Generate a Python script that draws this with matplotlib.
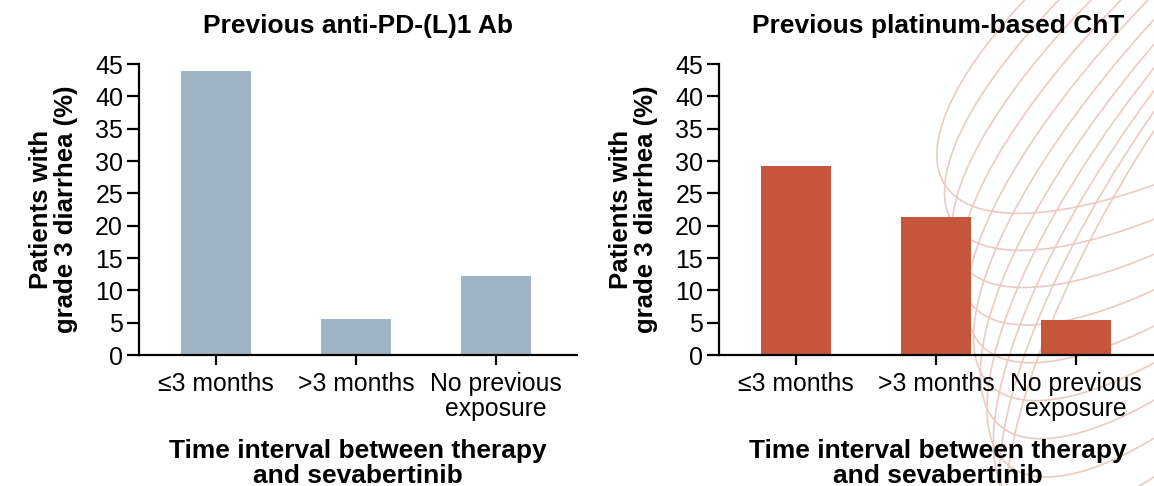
import numpy as np
import matplotlib.pyplot as plt
from matplotlib.patches import Ellipse

plt.rcParams['font.family'] = ['Liberation Sans', 'DejaVu Sans']

categories = ['≤3 months', '>3 months', 'No previous\nexposure']
pd1_values = [43.9, 5.6, 12.2]
platinum_values = [29.3, 21.4, 5.4]
panel_titles = ['Previous anti-PD-(L)1 Ab', 'Previous platinum-based ChT']
yticks = [0, 5, 10, 15, 20, 25, 30, 35, 40, 45]

W, H = 1154, 486
fig = plt.figure(figsize=(W / 100, H / 100), dpi=100)

# decorative loops in the background, pixel coordinates
bg = fig.add_axes([0, 0, 1, 1], zorder=0)
bg.set_xlim(0, W)
bg.set_ylim(H, 0)
bg.axis('off')
for k in range(11):
    tip_x, tip_y = 945 + 9 * k, 185 + 40 * k
    ang = np.radians(33 + 2.5 * k)
    w, h = 840, 280
    cx = tip_x + w / 2 * np.cos(ang)
    cy = tip_y - w / 2 * np.sin(ang)
    bg.add_patch(Ellipse((cx, cy), w, h, angle=-np.degrees(ang),
                         fill=False, ec='#ebcbc2', lw=1.2))

colors = ['#9fb4c4', '#c5563b']
lefts = [139 / W, 719 / W]
x = np.arange(len(categories))

for i, vals in enumerate([pd1_values, platinum_values]):
    ax = fig.add_axes([lefts[i], (H - 355) / H, 438 / W, 291 / H], zorder=1)
    ax.set_facecolor('none')
    ax.bar(x, vals, width=0.5, color=colors[i], zorder=2)
    ax.set_xlim(-0.55, 2.58)
    ax.set_ylim(0, 45)
    ax.set_yticks(yticks)
    ax.set_xticks(x)
    ax.set_xticklabels(categories, fontsize=17.8, linespacing=1.05)
    ax.tick_params(axis='y', labelsize=18, length=8.5, width=1.6, pad=3)
    ax.tick_params(axis='x', length=7.5, width=1.6, pad=5)
    for s in ['top', 'right']:
        ax.spines[s].set_visible(False)
    for s in ['left', 'bottom']:
        ax.spines[s].set_linewidth(1.6)
    ax.set_title(panel_titles[i], fontsize=19, fontweight='bold', pad=22)
    ax.set_ylabel('Patients with\ngrade 3 diarrhea (%)', fontsize=18.5,
                  fontweight='bold', labelpad=12, linespacing=1.05)
    ax.set_xlabel('Time interval between therapy\nand sevabertinib', fontsize=19,
                  fontweight='bold', labelpad=13, linespacing=1.05)

fig.savefig('out.png', dpi=100)
